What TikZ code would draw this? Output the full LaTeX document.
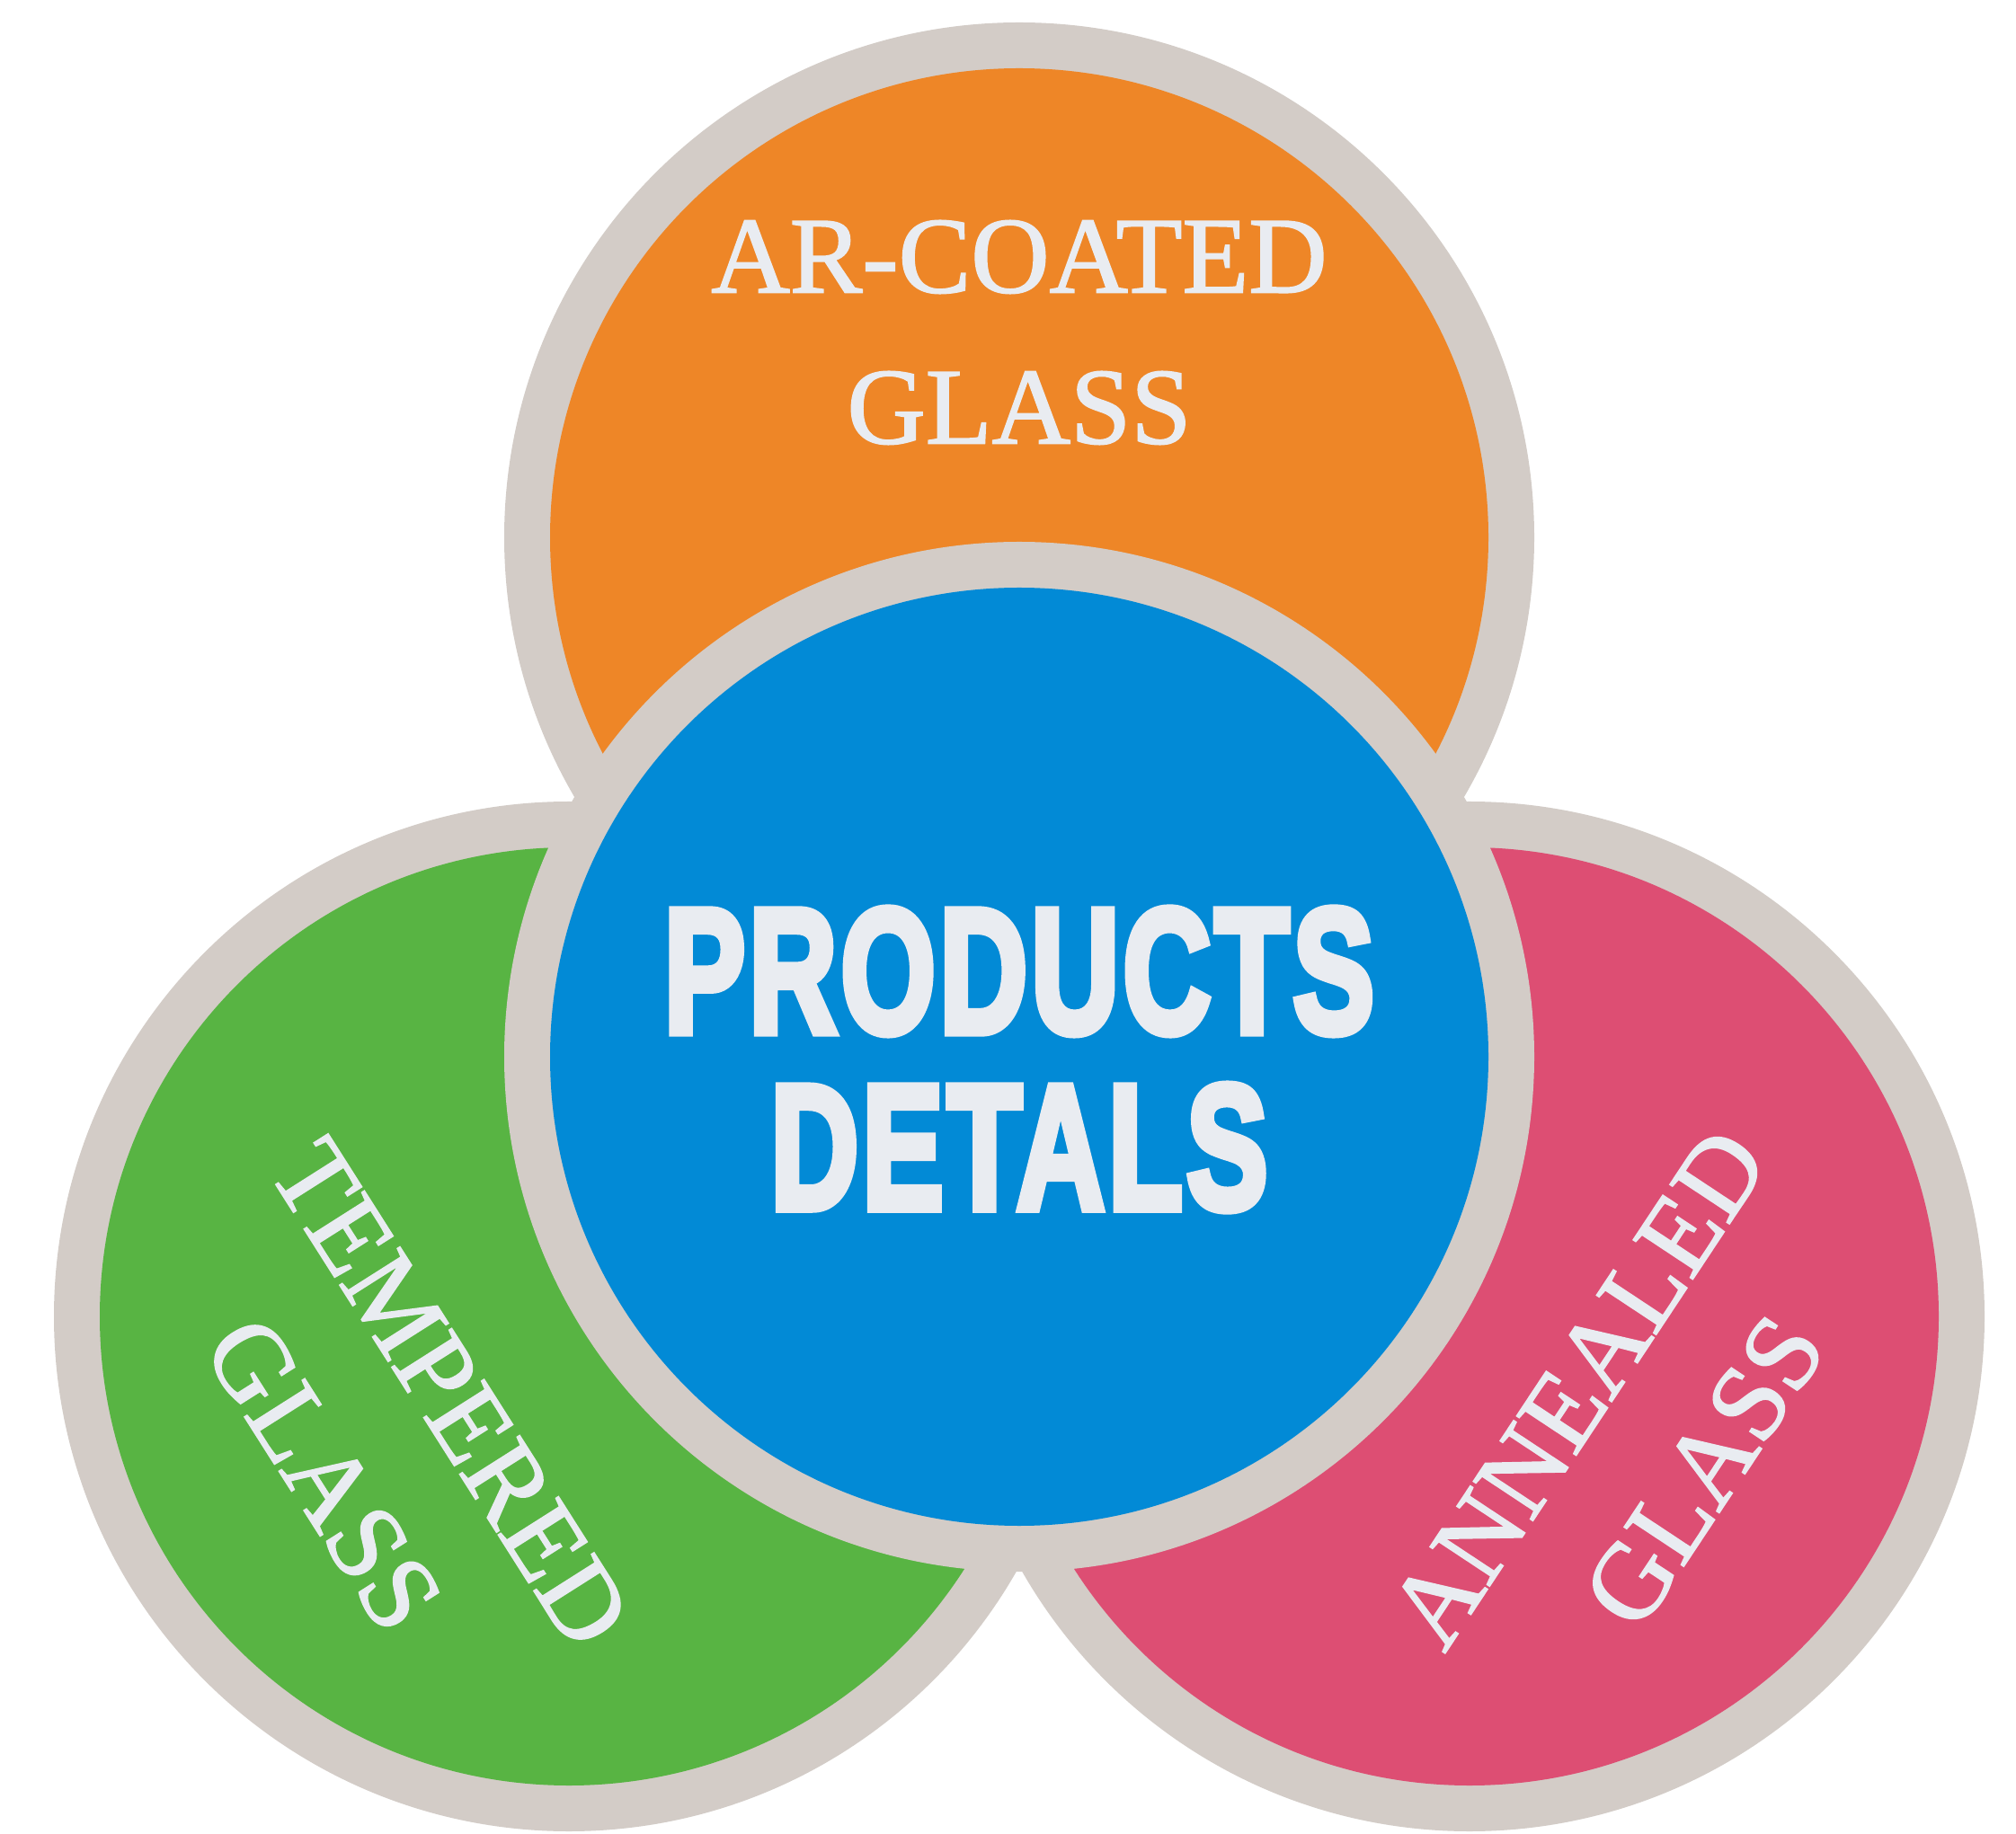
\documentclass[tikz,border=0pt]{standalone}
\usepackage{fontspec}
\setmainfont{Liberation Serif}[FakeBold=1.5]
\newfontfamily\heavysans{Liberation Sans}[FakeBold=5, LetterSpace=3]
\usetikzlibrary{positioning}
\definecolor{ringgray}{HTML}{D3CCC7}
\definecolor{arorange}{HTML}{EE8627}
\definecolor{pdblue}{HTML}{028AD6}
\definecolor{tpgreen}{HTML}{58B443}
\definecolor{anpink}{HTML}{DD4E73}
\definecolor{textwhite}{HTML}{E9ECF1}
\tikzstyle{ring}=[circle, fill=ringgray, inner sep=0pt, minimum size=11.46cm]
\tikzstyle{disc}=[circle, inner sep=0pt, minimum size=10.44cm]
\tikzstyle{glasstext}=[text=textwhite, align=center, inner sep=0pt,
    font=\fontsize{34.4}{47.8}\selectfont]
\tikzstyle{bigtext}=[text=textwhite, align=center, inner sep=0pt, xscale=0.69,
    font=\heavysans\bfseries\fontsize{56}{55.8}\selectfont]
\newcommand{\ring}{\node[ring]}
\newcommand{\disc}{\node[disc]}

\begin{document}
\begin{tikzpicture}
\useasboundingbox (0,0) rectangle (22.43,20.40);
% outer rings
\ring (ar-ring) at (11.34,14.42) {};
\ring (tp-ring) at (6.33,5.75) {};
\ring (an-ring) at (16.35,5.75) {};
\disc[fill=arorange] (ar) at (ar-ring) {};
\disc[fill=tpgreen] (tp) at (tp-ring) {};
\disc[fill=anpink] (an) at (an-ring) {};
% centre
\ring (pd-ring) at (11.34,8.64) {};
\disc[fill=pdblue] (pd) at (pd-ring) {};
\node[glasstext] (ar-text) at (11.34,16.70) {AR-COATED\\GLASS};
\node[glasstext, rotate=-57.6] (tp-text) at (4.30,4.44) {TEMPERED\\GLASS};
\node[glasstext, rotate=56.5] (an-text) at (18.26,4.49) {ANNEALED\\GLASS};
\node[bigtext] (pd-text) at (11.34,8.61) {PRODUCTS\\DETALS};
\end{tikzpicture}
\end{document}
